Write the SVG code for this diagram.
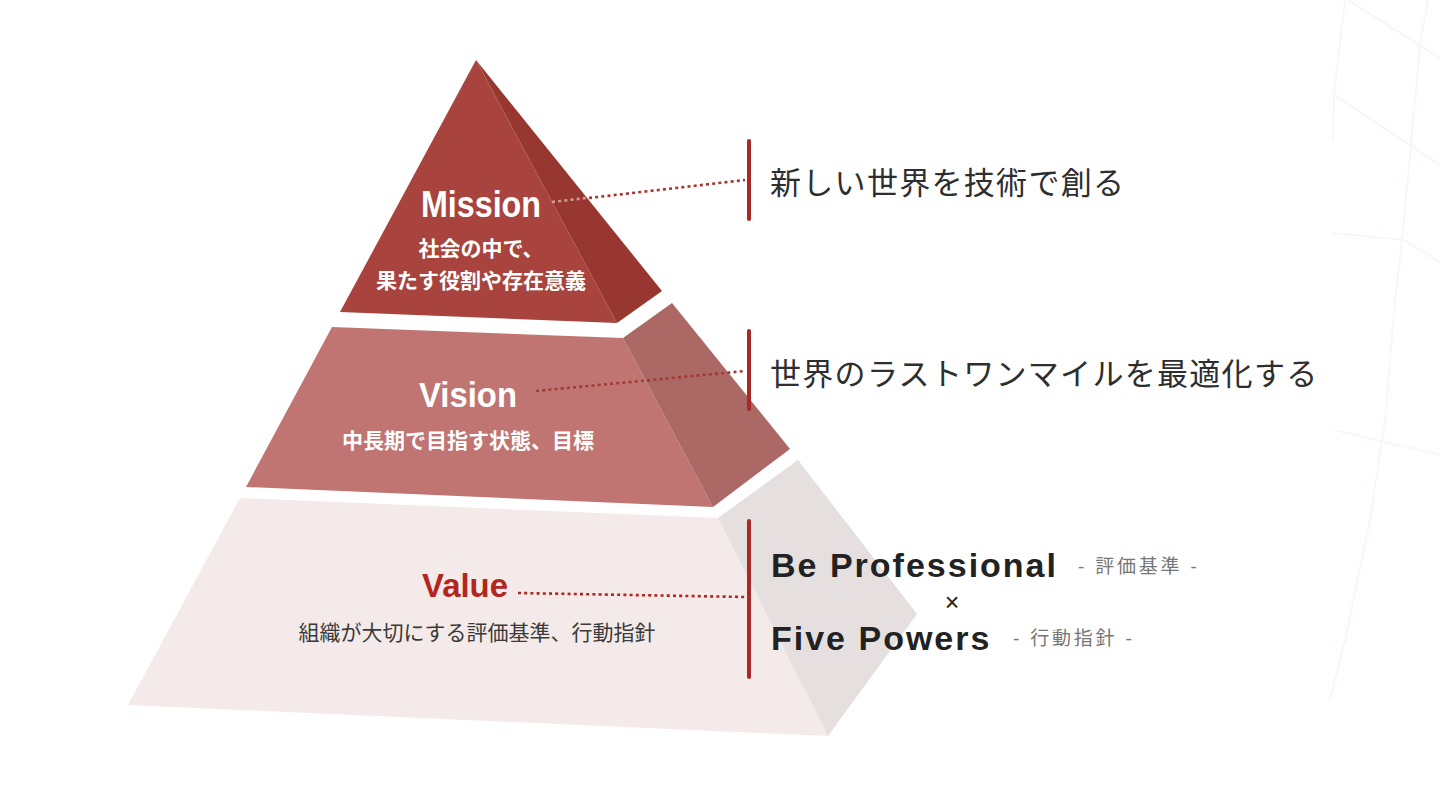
<svg xmlns="http://www.w3.org/2000/svg" width="1440" height="796" viewBox="0 0 1440 796">
  <style>
    .lat { font-family: "Liberation Sans", Arial, sans-serif; }
    .jp { font-family: "Liberation Sans", "Noto Sans CJK JP", sans-serif; }
    .tier-title { font-weight: bold; fill: #ffffff; }
    .tier-sub { font-size: 21px; font-weight: bold; fill: #ffffff; }
    .stmt { font-size: 31px; fill: #2e2e2e; letter-spacing: 1.3px; }
    .val-name { font-size: 34px; font-weight: bold; fill: #222222; letter-spacing: 2px; }
    .val-tag { font-size: 19px; fill: #777777; letter-spacing: 2.8px; }
    .bar { stroke: #a82a28; stroke-width: 4; stroke-linecap: round; }
    .dots { fill: none; stroke-width: 2.6; stroke-dasharray: 3 3.2; }
    .grid { fill: none; stroke: #fbf3f3; stroke-width: 1.5; }
  </style>
  <rect width="1440" height="796" fill="#ffffff"/>

  <g id="background-grid">
    <polyline class="grid" points="1345,0 1334,95 1333,140"/>
    <line class="grid" x1="1348" y1="0" x2="1440" y2="58"/>
    <line class="grid" x1="1334" y1="95" x2="1440" y2="165"/>
    <polyline class="grid" points="1428,0 1420,45 1411,145 1402,240 1395,300 1385,420 1370,520 1345,640 1330,700"/>
    <polyline class="grid" points="1333,233 1404,240 1440,262"/>
    <line class="grid" x1="1334" y1="430" x2="1440" y2="455"/>
  </g>

  <g id="mission">
    <polygon points="476,60 340,312 617,323" fill="#a8443d"/>
    <polygon points="476,60 617,323 662,291" fill="#983630"/>
    <text class="lat tier-title" x="481" y="217" font-size="36" text-anchor="middle" textLength="120" lengthAdjust="spacingAndGlyphs">Mission</text>
    <text class="jp tier-sub" x="481" y="256" text-anchor="middle">社会の中で、</text>
    <text class="jp tier-sub" x="481" y="288" text-anchor="middle">果たす役割や存在意義</text>
  </g>

  <g id="vision">
    <polygon points="332,327 623,338 713,507 246,487" fill="#c07572"/>
    <polygon points="623,338 672,303 790,449 713,507" fill="#ab6864"/>
    <text class="lat tier-title" x="468" y="407" font-size="35" text-anchor="middle" textLength="98" lengthAdjust="spacingAndGlyphs">Vision</text>
    <text class="jp tier-sub" x="468" y="448" text-anchor="middle">中長期で目指す状態、目標</text>
  </g>

  <g id="value">
    <polygon points="240,498 718,518 828,736 128,705" fill="#f4eaea"/>
    <polygon points="718,518 798,460 917,614 828,736" fill="#e6dfe0"/>
    <text class="lat" x="465" y="597" font-size="34" font-weight="bold" fill="#b3261f" text-anchor="middle" textLength="86" lengthAdjust="spacingAndGlyphs">Value</text>
    <text class="jp" x="477" y="640" font-size="21" fill="#3a3a3a" text-anchor="middle">組織が大切にする評価基準、行動指針</text>
  </g>

  <g id="connectors">
    <line class="dots" x1="552" y1="202" x2="586" y2="198" stroke="#d79a96"/>
    <line class="dots" x1="589" y1="198" x2="745" y2="180" stroke="#a8332f"/>
    <line class="dots" x1="536" y1="391" x2="745" y2="371" stroke="#a23a36"/>
    <line class="dots" x1="518" y1="593" x2="745" y2="597" stroke="#b3261f"/>
  </g>

  <g id="mission-statement">
    <line class="bar" x1="749" y1="141" x2="749" y2="219"/>
    <text class="jp stmt" x="770" y="194">新しい世界を技術で創る</text>
  </g>

  <g id="vision-statement">
    <line class="bar" x1="749" y1="331" x2="749" y2="409"/>
    <text class="jp stmt" x="770" y="385">世界のラストワンマイルを最適化する</text>
  </g>

  <g id="value-statement">
    <line class="bar" x1="749" y1="521" x2="749" y2="677"/>
    <text class="lat val-name" x="771" y="577">Be Professional</text>
    <text class="jp val-tag" x="1078" y="573">- 評価基準 -</text>
    <text class="lat" x="952" y="611" font-size="25" fill="#222222" text-anchor="middle">×</text>
    <text class="lat val-name" x="771" y="650">Five Powers</text>
    <text class="jp val-tag" x="1013" y="645">- 行動指針 -</text>
  </g>
</svg>
